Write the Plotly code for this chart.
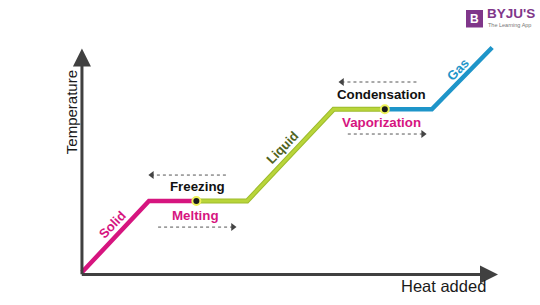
import plotly.graph_objects as go

# ---- data (heat added vs temperature, arbitrary units) ----
solid_heat = [0, 16.1, 27.5]
solid_temp = [1, 33.5, 33.5]
liquid_heat = [27.5, 39.7, 60.5, 72.8]
liquid_temp = [33.5, 33.5, 75.3, 75.3]
gas_heat = [72.8, 84.1, 98.6]
gas_temp = [75.3, 75.3, 103.4]
transition_heat = [27.5, 72.8]
transition_temp = [33.5, 75.3]

phase_labels = ["Solid", "Liquid", "Gas"]
phase_label_x = [7.3, 48.2, 90.4]
phase_label_y = [23.0, 57.8, 93.2]

process_labels = ["Freezing", "Melting", "Condensation", "Vaporization"]
process_x = [27.8, 27.3, 72.0, 72.0]
process_y = [39.9, 26.9, 81.9, 69.3]

arrow_start_x = [34.6, 18.3, 80.4, 63.9]
arrow_end_x = [16.8, 36.3, 62.5, 82.0]
arrow_y = [45.3, 21.6, 87.7, 64.0]

MAG = "#d6157f"
GRN = "#b9d53a"
GRN_D = "#9dbb2c"
BLU = "#1e95c9"
AX = "#404040"

fig = go.Figure()

# curve segments
fig.add_trace(go.Scatter(x=solid_heat, y=solid_temp, mode="lines",
                         line=dict(color=MAG, width=4.5), hoverinfo="skip"))
fig.add_trace(go.Scatter(x=liquid_heat, y=liquid_temp, mode="lines",
                         line=dict(color=GRN_D, width=5), hoverinfo="skip"))
fig.add_trace(go.Scatter(x=liquid_heat, y=liquid_temp, mode="lines",
                         line=dict(color=GRN, width=3), hoverinfo="skip"))
fig.add_trace(go.Scatter(x=gas_heat, y=gas_temp, mode="lines",
                         line=dict(color=BLU, width=4.5), hoverinfo="skip"))
fig.add_trace(go.Scatter(x=transition_heat, y=transition_temp, mode="markers",
                         marker=dict(color="#1a1a1a", size=8,
                                     line=dict(color="#eef25a", width=2)),
                         hoverinfo="skip"))

# dotted process arrows
for xs, xe, y in zip(arrow_start_x, arrow_end_x, arrow_y):
    fig.add_trace(go.Scatter(x=[xs, xe], y=[y, y], mode="lines",
                             line=dict(color="#555555", width=1, dash="dot"),
                             hoverinfo="skip"))
    fig.add_trace(go.Scatter(x=[xe], y=[y], mode="markers",
                             marker=dict(symbol="triangle-left" if xe < xs else "triangle-right",
                                         size=7, color="#444444"),
                             hoverinfo="skip"))

# axes with arrows
fig.add_annotation(x=0, y=103, ax=0, ay=-0.6, xref="x", yref="y", axref="x", ayref="y",
                   showarrow=True, arrowhead=2, arrowsize=1.2, arrowwidth=3, arrowcolor=AX, text="")
fig.add_annotation(x=100, y=0, ax=-0.4, ay=0, xref="x", yref="y", axref="x", ayref="y",
                   showarrow=True, arrowhead=2, arrowsize=1.2, arrowwidth=3, arrowcolor=AX, text="")

fig.add_annotation(x=86.8, y=-5.2, text="Heat added", showarrow=False,
                   font=dict(family="Liberation Sans, Arial", size=16.5, color="#1a1a1a"))
fig.add_annotation(x=-2.6, y=74.0, text="Temperature", showarrow=False, textangle=-90,
                   font=dict(family="Liberation Sans, Arial", size=15, color="#1a1a1a"))

phase_colors = [MAG, "#4f6320", BLU]
for t, x, y, c in zip(phase_labels, phase_label_x, phase_label_y, phase_colors):
    fig.add_annotation(x=x, y=y, text="<b>%s</b>" % t, showarrow=False, textangle=-46,
                       font=dict(family="Liberation Sans, Arial", size=13, color=c))

process_colors = ["#111111", MAG, "#111111", MAG]
for t, x, y, c in zip(process_labels, process_x, process_y, process_colors):
    fig.add_annotation(x=x, y=y, text="<b>%s</b>" % t, showarrow=False,
                       font=dict(family="Liberation Sans, Arial", size=13.3, color=c))

# logo (pixel positions converted to paper fractions)
W, H = 540, 305
fig.add_shape(type="rect", xref="paper", yref="paper",
              x0=466 / W, x1=483 / W, y0=1 - 27.5 / H, y1=1 - 10 / H,
              fillcolor="#80368a", line=dict(width=0), layer="below")
fig.add_annotation(xref="paper", yref="paper", x=474.5 / W, y=1 - 18.8 / H, text="<b>B</b>",
                   xanchor="center", yanchor="middle", showarrow=False,
                   font=dict(family="Liberation Sans, Arial", size=12, color="white"))
fig.add_annotation(xref="paper", yref="paper", x=485 / W, y=1 - 14 / H, text="<b>BYJU'S</b>",
                   xanchor="left", yanchor="middle", showarrow=False,
                   font=dict(family="Liberation Sans, Arial", size=13.5, color="#80368a"))
fig.add_annotation(xref="paper", yref="paper", x=486 / W, y=1 - 25.5 / H, text="The Learning App",
                   xanchor="left", yanchor="middle", showarrow=False,
                   font=dict(family="Liberation Sans, Arial", size=5.5, color="#777777"))

fig.update_layout(
    width=540, height=305, margin=dict(l=0, r=0, t=0, b=0),
    paper_bgcolor="white", plot_bgcolor="white", showlegend=False,
    xaxis=dict(range=[-19.7, 110.1], visible=False, fixedrange=True),
    yaxis=dict(range=[-13.9, 125.06], visible=False, fixedrange=True),
)
fig.write_html("out.html")
